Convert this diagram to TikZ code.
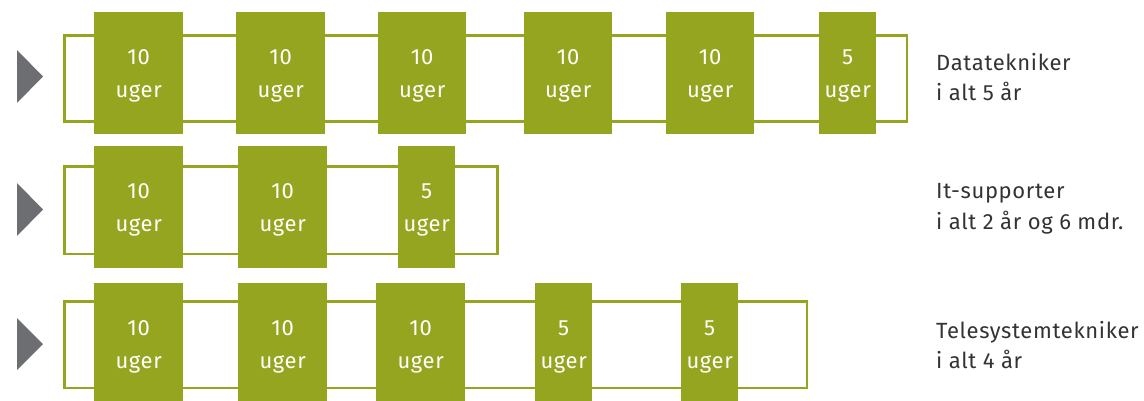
\documentclass[tikz,border=0pt]{standalone}
\usepackage{fontspec}
\setmainfont{Fira Sans}[LetterSpace=3]
\definecolor{olive}{HTML}{95A520}
\definecolor{tri}{HTML}{6D6E71}
\definecolor{lbl}{HTML}{333333}
\begin{document}
\begin{tikzpicture}[x=1pt,y=-1pt,
  frame/.style={draw=olive,line width=2.6pt},
  wk/.style={fill=olive,inner sep=0pt,minimum height=122pt,anchor=north west},
  wt/.style={inner sep=0pt,yshift=-3pt,text=white,align=center,font=\fontsize{22}{33}\selectfont},
  lab/.style={anchor=west,inner sep=0pt,text=lbl,align=left,font=\fontsize{22}{30.5}\selectfont},
  arr/.style={fill=tri}]
\useasboundingbox (0,0) rectangle (1144,401);
\clip (0,0) rectangle (1144,401);
% row 1
\fill[arr] (17,50) -- (43,76.5) -- (17,103) -- cycle;
\draw[frame] (64.5,35.5) rectangle (907,121.5);
\node[wk,minimum width=89pt,label={[wt]center:10\\uger}] (a1) at (94,12) {};
\node[wk,minimum width=89pt,label={[wt]center:10\\uger}] (a2) at (236,12) {};
\node[wk,minimum width=88pt,label={[wt]center:10\\uger}] (a3) at (378,12) {};
\node[wk,minimum width=88pt,label={[wt]center:10\\uger}] (a4) at (524,12) {};
\node[wk,minimum width=88pt,label={[wt]center:10\\uger}] (a5) at (666,12) {};
\node[wk,minimum width=57pt,label={[wt]center:5\\uger}] (a6) at (819,12) {};
\node[lab] (la) at (936,77) {Datatekniker\\i alt 5 år};
% row 2
\fill[arr] (17,183) -- (43,209.5) -- (17,236) -- cycle;
\draw[frame] (64.5,166.5) rectangle (497.5,254);
\node[wk,minimum width=89pt,label={[wt]center:10\\uger}] (b1) at (94,146) {};
\node[wk,minimum width=89pt,label={[wt]center:10\\uger}] (b2) at (238,146) {};
\node[wk,minimum width=57pt,label={[wt]center:5\\uger}] (b3) at (398,146) {};
\node[lab] (lb) at (936,209) {It-supporter\\i alt 2 år og 6 mdr.};
% row 3
\fill[arr] (17,318) -- (43,344) -- (17,370) -- cycle;
\draw[frame] (64.5,301.5) rectangle (807,388);
\node[wk,minimum width=89pt,label={[wt]center:10\\uger}] (c1) at (94,283) {};
\node[wk,minimum width=89pt,label={[wt]center:10\\uger}] (c2) at (238,283) {};
\node[wk,minimum width=89pt,label={[wt]center:10\\uger}] (c3) at (376,283) {};
\node[wk,minimum width=57pt,label={[wt]center:5\\uger}] (c4) at (535,283) {};
\node[wk,minimum width=57pt,label={[wt]center:5\\uger}] (c5) at (681,283) {};
\node[lab] (lc) at (936,345) {Telesystemtekniker\\i alt 4 år};
\end{tikzpicture}
\end{document}
